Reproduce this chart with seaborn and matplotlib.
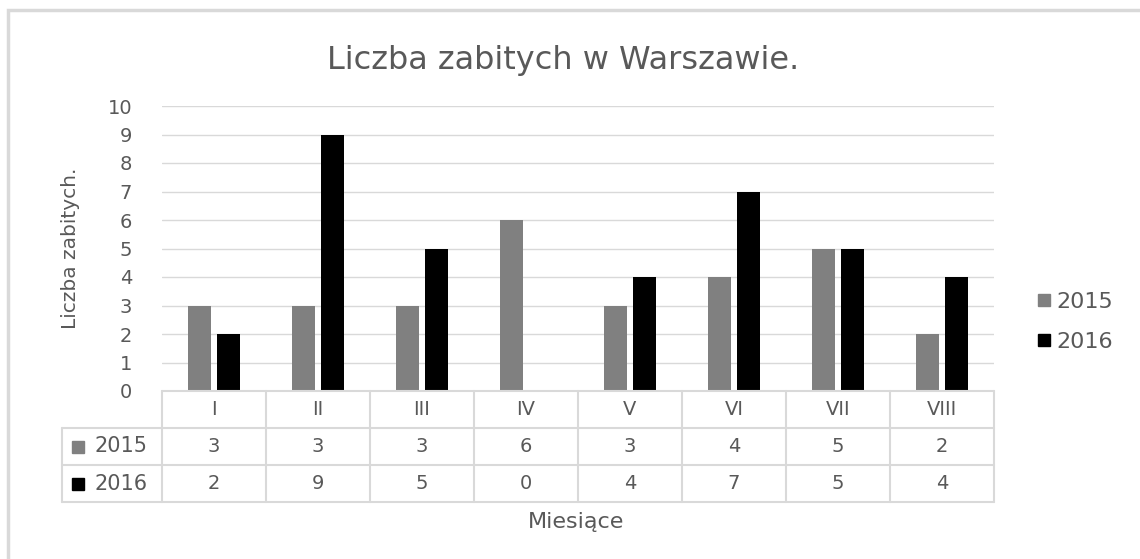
import pandas as pd
import matplotlib.pyplot as plt
from matplotlib.patches import Rectangle
from matplotlib.lines import Line2D
import seaborn as sns

# data
months = ['I', 'II', 'III', 'IV', 'V', 'VI', 'VII', 'VIII']
years = ['2015', '2016']
values_2015 = [3, 3, 3, 6, 3, 4, 5, 2]
values_2016 = [2, 9, 5, 0, 4, 7, 5, 4]
colors = {'2015': '#808080', '2016': '#000000'}

text_col = '#595959'
line_col = '#d9d9d9'

df = pd.DataFrame({
    'month': months * 2,
    'year': ['2015'] * len(months) + ['2016'] * len(months),
    'value': values_2015 + values_2016,
})

sns.set_style('white')
plt.rcParams['font.family'] = ['DejaVu Sans']

W, H = 1140, 559
fig = plt.figure(figsize=(W / 100, H / 100), dpi=100)
fig.patch.set_facecolor('white')

# plot area in pixels
px_left, px_right, px_top, px_bottom = 162, 994, 106, 391
ax = fig.add_axes([px_left / W, 1 - px_bottom / H,
                   (px_right - px_left) / W, (px_bottom - px_top) / H])

sns.barplot(data=df, x='month', y='value', hue='year', order=months,
            hue_order=years, palette=colors, width=0.56, gap=0.2,
            linewidth=0, saturation=1, ax=ax, legend=False)

ax.set_ylim(0, 10)
ax.set_xlim(-0.5, len(months) - 0.5)
ax.set_yticks(range(0, 11))
ax.yaxis.grid(True, color=line_col, linewidth=1)
ax.set_axisbelow(True)
for s in ax.spines.values():
    s.set_visible(False)
ax.tick_params(axis='y', left=False, labelsize=14, labelcolor=text_col, pad=18)
ax.tick_params(axis='x', bottom=False, labelbottom=False)
ax.set_xlabel('')
ax.set_ylabel('')

# data table below the axis
ax_h = px_bottom - px_top
row_h = 37 / ax_h
cat_px = (px_right - px_left) / len(months)
left_col = -0.5 - 100 / cat_px
tr = ax.get_xaxis_transform()
lk = dict(color=line_col, linewidth=1.5, transform=tr, clip_on=False)

# horizontal lines
ax.plot([-0.5, len(months) - 0.5], [0, 0], **lk)
for r in (1, 2, 3):
    ax.plot([left_col, len(months) - 0.5], [-r * row_h, -r * row_h], **lk)
# vertical lines
for i in range(len(months) + 1):
    ax.plot([i - 0.5, i - 0.5], [0, -3 * row_h], **lk)
ax.plot([left_col, left_col], [-row_h, -3 * row_h], **lk)

for i, m in enumerate(months):
    ax.text(i, -0.5 * row_h, m, transform=tr, ha='center', va='center',
            fontsize=14, color=text_col, clip_on=False)

for r, (yr, vals) in enumerate([('2015', values_2015), ('2016', values_2016)]):
    yc = -(1.5 + r) * row_h
    ax.plot([left_col + 0.15], [yc], marker='s', markersize=8, color=colors[yr],
            transform=tr, clip_on=False, linestyle='none')
    ax.text(left_col + 0.31, yc, yr, transform=tr, ha='left', va='center',
            fontsize=15, color=text_col, clip_on=False)
    for i, v in enumerate(vals):
        ax.text(i, yc, str(v), transform=tr, ha='center', va='center',
                fontsize=14, color=text_col, clip_on=False)

# titles
fig.text(563 / W, 1 - 60 / H, 'Liczba zabitych w Warszawie.', ha='center',
         va='center', fontsize=23, color=text_col)
fig.text(576 / W, 1 - 522 / H, 'Miesiące', ha='center', va='center',
         fontsize=16, color=text_col)
fig.text(70 / W, 1 - 248 / H, 'Liczba zabitych.', ha='center', va='center',
         rotation=90, fontsize=14.5, color=text_col)

# legend on the right
handles = [Line2D([], [], marker='s', markersize=8, linestyle='none',
                  color=colors[y]) for y in years]
fig.legend(handles, years, loc='center left',
           bbox_to_anchor=(1030 / W, 1 - 322 / H), frameon=False,
           fontsize=16, labelcolor=text_col, handlelength=0.5,
           handletextpad=0.3, labelspacing=0.9, borderaxespad=0)

# outer chart frame
fig.patches.append(Rectangle((8 / W, -0.1), 1.2, 1 - 10 / H + 0.1,
                             transform=fig.transFigure, fill=False,
                             edgecolor=line_col, linewidth=2.5))

fig.savefig('out.png', dpi=100, facecolor='white')
